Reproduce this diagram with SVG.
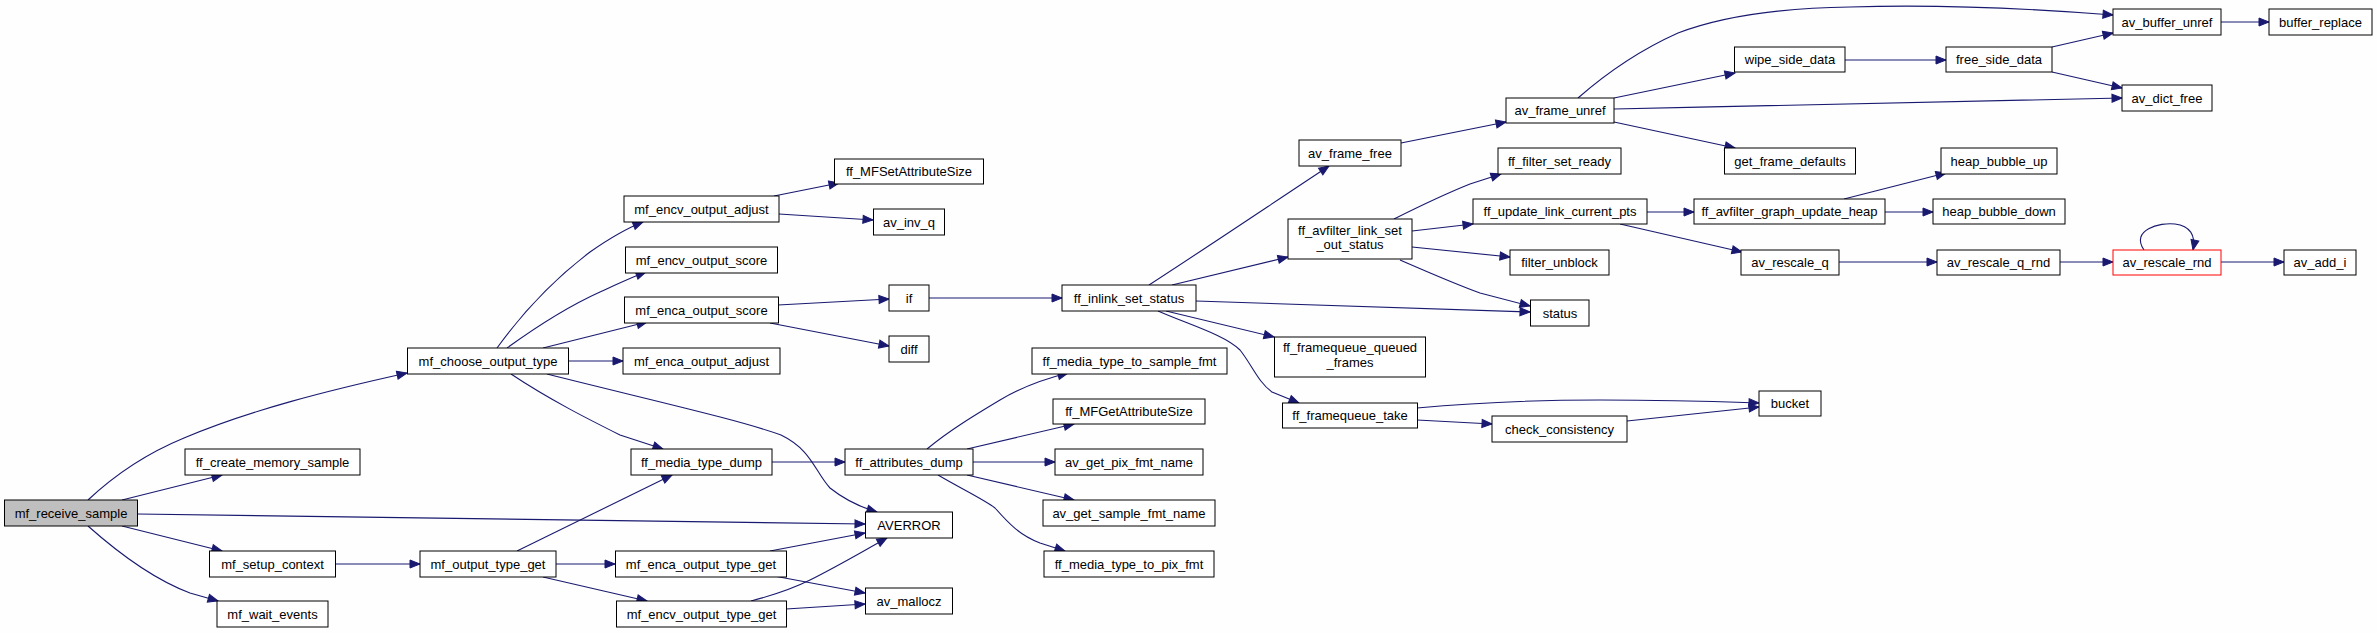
<svg xmlns="http://www.w3.org/2000/svg" width="2377" height="633" viewBox="0 0 2377 633">
<style>
.n rect{fill:#fff;stroke:#000;stroke-width:1}
.n text{font-family:"Liberation Sans",Arial,sans-serif;font-size:13px;text-anchor:middle;fill:#000}
.e path{fill:none;stroke:#191970;stroke-width:1.1;marker-end:url(#a)}
</style>
<defs>
<marker id="a" markerUnits="userSpaceOnUse" markerWidth="12" markerHeight="10" refX="10" refY="4" orient="auto" overflow="visible">
<path d="M0,0 L10,4 L0,8 z" fill="#191970" stroke="#191970" stroke-width="1"/>
</marker>
</defs>
<rect x="0" y="0" width="2377" height="633" fill="#fdfefd"/>
<g id="edges" class="e">
<path d="M88,500 C120,470 150,452 184,438 C250,410 330,390 407,373"/>
<path d="M122,500 L222,475"/>
<path d="M137,514 L865,524"/>
<path d="M122,526 L222,551"/>
<path d="M88,526 C115,550 150,578 190,593 L218,601"/>
<path d="M335,564 L420,564"/>
<path d="M497,348 C510,330 540,290 590,252 C610,238 625,229 643,222"/>
<path d="M507,348 C525,335 560,310 600,292 C620,283 632,277 646,272"/>
<path d="M543,348 L647,322"/>
<path d="M568,361 L623,361"/>
<path d="M547,374 C650,400 740,420 781,435 C812,450 815,472 830,488 C845,500 860,507 877,512"/>
<path d="M511,374 C550,400 590,420 620,435 L663,449"/>
<path d="M517,551 L672,475"/>
<path d="M556,564 L615,564"/>
<path d="M543,577 L647,601"/>
<path d="M774,196 L839,183"/>
<path d="M779,214 L873,220"/>
<path d="M778,305 L889,299"/>
<path d="M770,323 L889,346"/>
<path d="M929,298 L1062,298"/>
<path d="M772,462 L845,462"/>
<path d="M927,449 C950,430 975,415 1000,400 C1020,388 1040,380 1068,373"/>
<path d="M967,449 L1074,424"/>
<path d="M973,462 L1055,462"/>
<path d="M967,475 L1074,500"/>
<path d="M938,475 C960,488 985,500 995,508 C1010,525 1020,535 1040,543 L1065,551"/>
<path d="M770,551 L865,533"/>
<path d="M774,576 L865,593"/>
<path d="M751,601 C770,596 790,590 810,580 C840,565 865,550 887,538"/>
<path d="M786,609 L865,604"/>
<path d="M1149,285 C1200,252 1270,205 1329,166"/>
<path d="M1172,285 L1288,257"/>
<path d="M1196,301 L1530,312"/>
<path d="M1166,311 L1274,337"/>
<path d="M1158,311 C1190,325 1225,335 1240,350 C1252,365 1258,382 1272,392 L1299,403"/>
<path d="M1394,219 C1420,206 1450,192 1470,184 L1501,174"/>
<path d="M1412,231 L1473,224"/>
<path d="M1412,247 L1510,257"/>
<path d="M1400,260 C1430,273 1455,284 1480,293 L1530,306"/>
<path d="M1647,212 L1694,212"/>
<path d="M1620,224 L1742,252"/>
<path d="M1401,143 L1506,122"/>
<path d="M1578,98 C1610,70 1640,50 1678,33 C1720,17 1780,8 1850,7 C1950,4 2050,10 2113,15"/>
<path d="M1614,98 L1735,73"/>
<path d="M1614,109 C1800,105 2000,100 2122,98"/>
<path d="M1614,122 L1735,148"/>
<path d="M1845,60 L1946,60"/>
<path d="M2052,47 L2113,33"/>
<path d="M2052,72 L2122,88"/>
<path d="M2221,22 L2269,22"/>
<path d="M1844,199 L1946,173"/>
<path d="M1885,212 L1933,212"/>
<path d="M1839,262 L1937,262"/>
<path d="M2060,262 L2113,262"/>
<path d="M2144,250 C2130,230 2160,222 2175,224 C2190,226 2196,235 2193,250"/>
<path d="M2221,262 L2284,262"/>
<path d="M1417,408 C1470,403 1530,400 1600,400 C1680,400 1730,402 1759,403"/>
<path d="M1417,420 L1492,424"/>
<path d="M1627,421 L1759,407"/>
</g>
<g id="mf_receive_sample" class="n"><rect x="4.5" y="500" width="133" height="26" style="fill:#bfbfbf"/><text x="71" y="517.5">mf_receive_sample</text></g>
<g id="mf_choose_output_type" class="n"><rect x="407.5" y="348" width="161" height="26"/><text x="488" y="365.5">mf_choose_output_type</text></g>
<g id="ff_create_memory_sample" class="n"><rect x="185" y="449" width="175" height="26"/><text x="272.5" y="466.5">ff_create_memory_sample</text></g>
<g id="mf_setup_context" class="n"><rect x="209.5" y="551" width="126" height="26"/><text x="272.5" y="568.5">mf_setup_context</text></g>
<g id="mf_output_type_get" class="n"><rect x="420" y="551" width="136" height="26"/><text x="488" y="568.5">mf_output_type_get</text></g>
<g id="mf_wait_events" class="n"><rect x="217" y="601" width="111" height="26"/><text x="272.5" y="618.5">mf_wait_events</text></g>
<g id="mf_encv_output_adjust" class="n"><rect x="624" y="196" width="155" height="26"/><text x="701.5" y="213.5">mf_encv_output_adjust</text></g>
<g id="mf_encv_output_score" class="n"><rect x="625.5" y="247" width="152" height="26"/><text x="701.5" y="264.5">mf_encv_output_score</text></g>
<g id="mf_enca_output_score" class="n"><rect x="624.5" y="297" width="154" height="26"/><text x="701.5" y="314.5">mf_enca_output_score</text></g>
<g id="mf_enca_output_adjust" class="n"><rect x="623" y="348" width="157" height="26"/><text x="701.5" y="365.5">mf_enca_output_adjust</text></g>
<g id="ff_media_type_dump" class="n"><rect x="631" y="449" width="141" height="26"/><text x="701.5" y="466.5">ff_media_type_dump</text></g>
<g id="mf_enca_output_type_get" class="n"><rect x="615.5" y="551" width="171" height="26"/><text x="701" y="568.5">mf_enca_output_type_get</text></g>
<g id="mf_encv_output_type_get" class="n"><rect x="616.5" y="601" width="170" height="26"/><text x="701.5" y="618.5">mf_encv_output_type_get</text></g>
<g id="ff_MFSetAttributeSize" class="n"><rect x="834.5" y="159" width="149" height="25"/><text x="909" y="176">ff_MFSetAttributeSize</text></g>
<g id="av_inv_q" class="n"><rect x="873.5" y="209" width="71" height="26"/><text x="909" y="226.5">av_inv_q</text></g>
<g id="if" class="n"><rect x="889" y="285" width="40" height="26"/><text x="909" y="302.5">if</text></g>
<g id="diff" class="n"><rect x="889" y="336" width="40" height="26"/><text x="909" y="353.5">diff</text></g>
<g id="ff_attributes_dump" class="n"><rect x="845" y="449" width="128" height="26"/><text x="909" y="466.5">ff_attributes_dump</text></g>
<g id="AVERROR" class="n"><rect x="865.5" y="512" width="87" height="26"/><text x="909" y="529.5">AVERROR</text></g>
<g id="av_mallocz" class="n"><rect x="865.5" y="588" width="87" height="26"/><text x="909" y="605.5">av_mallocz</text></g>
<g id="ff_inlink_set_status" class="n"><rect x="1062" y="285" width="134" height="26"/><text x="1129" y="302.5">ff_inlink_set_status</text></g>
<g id="ff_media_type_to_sample_fmt" class="n"><rect x="1032" y="348" width="195" height="26"/><text x="1129.5" y="365.5">ff_media_type_to_sample_fmt</text></g>
<g id="ff_MFGetAttributeSize" class="n"><rect x="1053" y="399" width="152" height="25"/><text x="1129" y="416">ff_MFGetAttributeSize</text></g>
<g id="av_get_pix_fmt_name" class="n"><rect x="1055" y="449" width="148" height="26"/><text x="1129" y="466.5">av_get_pix_fmt_name</text></g>
<g id="av_get_sample_fmt_name" class="n"><rect x="1043" y="500" width="172" height="26"/><text x="1129" y="517.5">av_get_sample_fmt_name</text></g>
<g id="ff_media_type_to_pix_fmt" class="n"><rect x="1044" y="551" width="170" height="26"/><text x="1129" y="568.5">ff_media_type_to_pix_fmt</text></g>
<g id="av_frame_free" class="n"><rect x="1299" y="140" width="102" height="26"/><text x="1350" y="157.5">av_frame_free</text></g>
<g id="ff_avfilter_link_set_out_status" class="n"><rect x="1288" y="219" width="124" height="40"/><text x="1350" y="234.5">ff_avfilter_link_set</text><text x="1350" y="249">_out_status</text></g>
<g id="ff_framequeue_queued_frames" class="n"><rect x="1274.5" y="337" width="151" height="40"/><text x="1350" y="352">ff_framequeue_queued</text><text x="1350" y="366.5">_frames</text></g>
<g id="ff_framequeue_take" class="n"><rect x="1282.5" y="403" width="135" height="25"/><text x="1350" y="420">ff_framequeue_take</text></g>
<g id="av_frame_unref" class="n"><rect x="1506" y="98" width="108" height="25"/><text x="1560" y="115">av_frame_unref</text></g>
<g id="ff_filter_set_ready" class="n"><rect x="1498" y="148" width="123" height="26"/><text x="1559.5" y="165.5">ff_filter_set_ready</text></g>
<g id="ff_update_link_current_pts" class="n"><rect x="1473" y="199" width="174" height="25"/><text x="1560" y="216">ff_update_link_current_pts</text></g>
<g id="filter_unblock" class="n"><rect x="1510" y="250" width="99" height="25"/><text x="1559.5" y="267">filter_unblock</text></g>
<g id="status" class="n"><rect x="1530.5" y="300" width="58.5" height="26"/><text x="1560" y="317.5">status</text></g>
<g id="check_consistency" class="n"><rect x="1492" y="416" width="135" height="26"/><text x="1559.5" y="433.5">check_consistency</text></g>
<g id="wipe_side_data" class="n"><rect x="1734.5" y="47" width="110.5" height="25"/><text x="1790" y="64">wipe_side_data</text></g>
<g id="get_frame_defaults" class="n"><rect x="1724.5" y="148" width="131" height="26"/><text x="1790" y="165.5">get_frame_defaults</text></g>
<g id="ff_avfilter_graph_update_heap" class="n"><rect x="1694" y="199" width="191" height="25"/><text x="1789.5" y="216">ff_avfilter_graph_update_heap</text></g>
<g id="av_rescale_q" class="n"><rect x="1741" y="250" width="98" height="25"/><text x="1790" y="267">av_rescale_q</text></g>
<g id="bucket" class="n"><rect x="1759" y="391" width="62" height="25"/><text x="1790" y="408">bucket</text></g>
<g id="free_side_data" class="n"><rect x="1946" y="47" width="106" height="25"/><text x="1999" y="64">free_side_data</text></g>
<g id="heap_bubble_up" class="n"><rect x="1941" y="148" width="116" height="26"/><text x="1999" y="165.5">heap_bubble_up</text></g>
<g id="heap_bubble_down" class="n"><rect x="1933" y="199" width="132" height="25"/><text x="1999" y="216">heap_bubble_down</text></g>
<g id="av_rescale_q_rnd" class="n"><rect x="1937" y="250" width="123" height="25"/><text x="1998.5" y="267">av_rescale_q_rnd</text></g>
<g id="av_buffer_unref" class="n"><rect x="2113" y="9" width="108" height="26"/><text x="2167" y="26.5">av_buffer_unref</text></g>
<g id="av_dict_free" class="n"><rect x="2122" y="85" width="90" height="26"/><text x="2167" y="102.5">av_dict_free</text></g>
<g id="av_rescale_rnd" class="n"><rect x="2113" y="250" width="108" height="25" style="stroke:#ff0000"/><text x="2167" y="267">av_rescale_rnd</text></g>
<g id="buffer_replace" class="n"><rect x="2269" y="9" width="103" height="26"/><text x="2320.5" y="26.5">buffer_replace</text></g>
<g id="av_add_i" class="n"><rect x="2284" y="250" width="72" height="25"/><text x="2320" y="267">av_add_i</text></g>
</svg>
